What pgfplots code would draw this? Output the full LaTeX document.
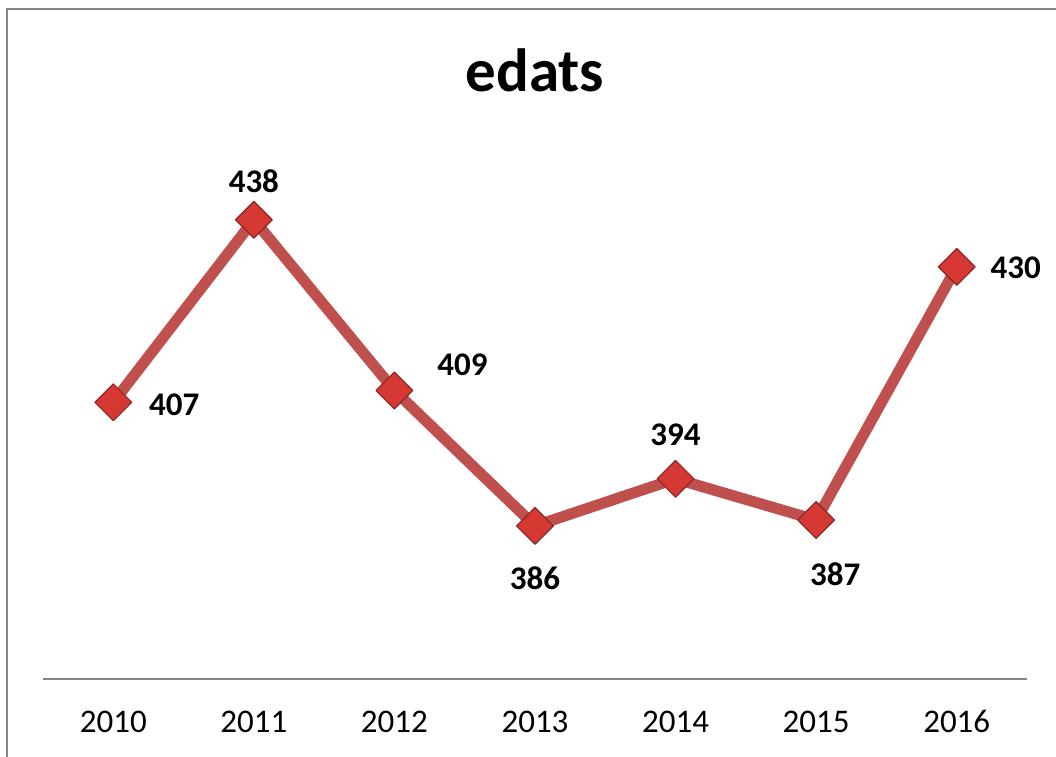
\documentclass[border=0pt]{standalone}
\usepackage{fontspec}
\setmainfont{Carlito}
\usepackage{pgfplots}
\usepackage{pgfplotstable}
\pgfplotsset{compat=1.18}

\definecolor{linered}{RGB}{192,80,77}
\definecolor{markred}{RGB}{214,56,52}
\definecolor{markedge}{RGB}{140,40,38}
\definecolor{framegray}{RGB}{134,134,134}

% x = category index, dx/dy = label offset from the point (pt)
\pgfplotstableread{
x y lab dx dy
0 407 407 61 -3
1 438 438 0 39
2 409 409 68 26
3 386 386 0 -52
4 394 394 0 44
5 387 387 19 -54
6 430 430 59 -1
}\edats

\begin{document}
\begin{tikzpicture}
\useasboundingbox (0,0) rectangle (1056pt,756pt);
\draw[framegray, line width=2.5pt] (7pt,-5pt) -- (7pt,747pt) -- (1070pt,747pt);
\node[font=\fontsize{61}{72}\selectfont\bfseries, anchor=base] at (535pt,664pt) {edats};
\begin{axis}[
  at={(43pt,77pt)}, anchor=south west,
  scale only axis, width=984pt, height=471pt,
  xmin=-0.5, xmax=6.5, ymin=360, ymax=440,
  axis x line*=bottom, axis y line=none,
  x axis line style={framegray, line width=2pt, -},
  xtick={0,...,6},
  xticklabels={2010,2011,2012,2013,2014,2015,2016},
  major tick length=0pt,
  xticklabel style={font=\fontsize{33}{40}\selectfont, anchor=base, yshift=-53pt},
  clip=false,
]
\addplot[
  linered, line width=11pt, line join=round,
  mark=square*, mark size=13pt,
  mark options={rotate=45, fill=markred, draw=markedge, line width=1.2pt},
  point meta=explicit symbolic,
  visualization depends on={\thisrow{dx} \as \dx},
  visualization depends on={\thisrow{dy} \as \dy},
  nodes near coords={\pgfplotspointmeta},
  nodes near coords style={
    anchor=center, black, inner sep=0pt,
    font=\fontsize{33}{40}\selectfont\bfseries,
    xshift=\dx pt, yshift=\dy pt},
] table[x=x, y=y, meta=lab] {\edats};
\end{axis}
\end{tikzpicture}
\end{document}
